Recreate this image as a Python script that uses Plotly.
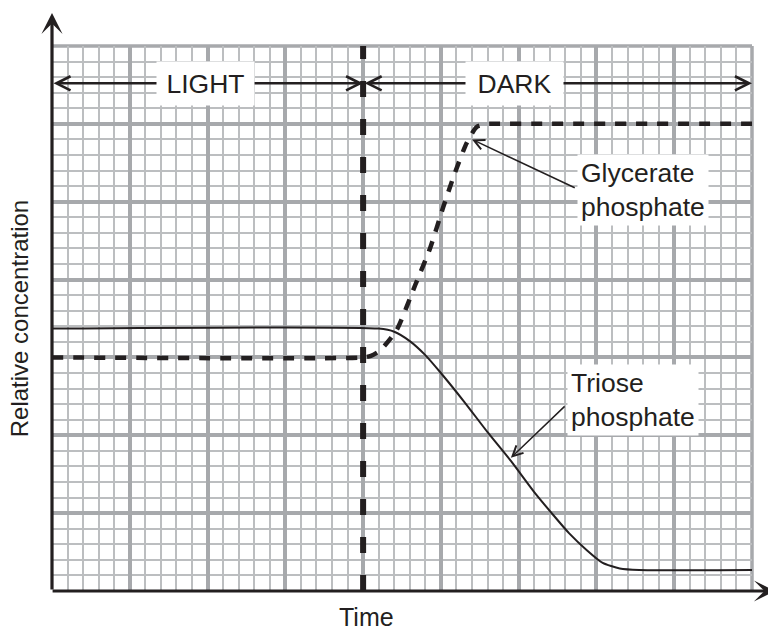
import plotly.graph_objects as go

# units = major grid squares (each major square = 5 small squares)
switch_time = 4

gp_time = [0, 4.0, 4.1, 4.22, 4.43, 4.67, 4.86, 5.03, 5.18, 5.33, 5.46, 5.6, 5.75, 9]
gp_conc = [3, 3, 3.02, 3.09, 3.35, 3.93, 4.40, 4.93, 5.37, 5.75, 5.96, 6, 6, 6]

tp_time = [0, 4.2, 4.4, 4.6, 4.8, 5.0, 5.3, 5.6, 5.9, 6.2, 6.45, 6.65, 6.88, 7.08, 7.3, 7.55, 9]
tp_conc = [3.37, 3.37, 3.33, 3.21, 3.03, 2.8, 2.43, 2.04, 1.67, 1.27, 0.97, 0.74, 0.52, 0.36, 0.29, 0.27, 0.27]

x_max = 9
y_max = 7
band_y = 6.52
band_labels = ["LIGHT", "DARK"]
band_label_x = [1.97, 5.95]

ink = "#231f20"
major_col = "#a7a9ac"
minor_col = "#bcbec0"
font = "Liberation Sans, Arial, sans-serif"

fig = go.Figure()

fig.add_trace(go.Scatter(x=tp_time, y=tp_conc, mode="lines",
                         line=dict(color=ink, width=2, shape="spline", smoothing=0.6),
                         name="Triose phosphate"))
fig.add_trace(go.Scatter(x=gp_time, y=gp_conc, mode="lines",
                         line=dict(color=ink, width=4.5, dash="11px,10px",
                                   shape="spline", smoothing=0.6),
                         name="Glycerate phosphate"))
fig.add_trace(go.Scatter(x=[switch_time, switch_time], y=[0, y_max], mode="lines",
                         line=dict(color=ink, width=6, dash="16px,22px"),
                         name="switch"))

axis_common = dict(showticklabels=False, ticks="", zeroline=False, showline=False,
                   showgrid=True, gridcolor=major_col, gridwidth=3.5, dtick=1, tick0=0,
                   fixedrange=True)
fig.update_xaxes(range=[0, x_max],
                 minor=dict(dtick=0.2, tick0=0, showgrid=True, gridcolor=minor_col, gridwidth=1.5),
                 **axis_common)
fig.update_yaxes(range=[0, y_max],
                 minor=dict(dtick=0.2, tick0=0, showgrid=True, gridcolor=minor_col, gridwidth=1.5),
                 **axis_common)

# outer edge of the graph paper
fig.add_shape(type="line", xref="paper", yref="paper", x0=0, x1=1, y0=1, y1=1,
              line=dict(color=major_col, width=3.5), layer="below")
fig.add_shape(type="line", xref="paper", yref="paper", x0=1, x1=1, y0=0, y1=1,
              line=dict(color=major_col, width=3.5), layer="below")

ann = []
# axes with arrows
ann.append(dict(xref="paper", yref="paper", x=0, y=1.0606, ax=0, ay=578, text="",
                showarrow=True, arrowhead=3, arrowsize=1.1, arrowwidth=3.2, arrowcolor=ink))
ann.append(dict(xref="paper", yref="paper", x=1.033, y=0, ax=-724, ay=0, text="",
                showarrow=True, arrowhead=3, arrowsize=1.1, arrowwidth=3.2, arrowcolor=ink))

# light / dark double arrows
for x0, x1 in [(0, switch_time), (switch_time, x_max)]:
    ann.append(dict(xref="x", yref="y", axref="x", ayref="y", x=x1, y=band_y, ax=x0, ay=band_y,
                    text="", showarrow=True, arrowside="end+start", arrowhead=5,
                    startarrowhead=5, arrowsize=1.1, startarrowsize=1.1, arrowwidth=2.5,
                    arrowcolor=ink))
for lab, lx in zip(band_labels, band_label_x):
    ann.append(dict(xref="x", yref="y", x=lx, y=band_y, text=lab, showarrow=False,
                    bgcolor="white", width=95, height=41,
                    font=dict(family=font, size=26.5, color=ink)))

# curve labels with pointers
ann.append(dict(xref="x", yref="y", axref="x", ayref="y", x=5.40, y=5.80, ax=6.74, ay=5.17,
                text="", showarrow=True, arrowhead=5, arrowsize=1.35, arrowwidth=1.5,
                arrowcolor=ink))
ann.append(dict(xref="x", yref="y", axref="x", ayref="y", x=5.90, y=1.71, ax=6.61, ay=2.39,
                text="", showarrow=True, arrowhead=5, arrowsize=1.35, arrowwidth=1.5,
                arrowcolor=ink))
ann.append(dict(xref="paper", yref="paper", x=0.75, y=0.735, xanchor="left", yanchor="middle",
                text="Glycerate<br>phosphate", showarrow=False, align="left",
                bgcolor="white", borderpad=3, font=dict(family=font, size=26.5, color=ink)))
ann.append(dict(xref="paper", yref="paper", x=0.736, y=0.35, xanchor="left", yanchor="middle",
                text="Triose<br>phosphate", showarrow=False, align="left",
                bgcolor="white", borderpad=3, font=dict(family=font, size=26.5, color=ink)))

# axis titles
ann.append(dict(xref="paper", yref="paper", x=-0.046, y=0.5, xanchor="center", yanchor="middle",
                text="Relative concentration", textangle=-90, showarrow=False,
                font=dict(family=font, size=24, color=ink)))
ann.append(dict(xref="paper", yref="paper", x=0.449, y=-0.0477, xanchor="center", yanchor="middle",
                text="Time", showarrow=False, font=dict(family=font, size=25, color=ink)))

# page body adds an 8px margin, so the figure is drawn 8px smaller with the plot area kept in place
fig.update_layout(width=768, height=622, margin=dict(l=44, r=24, t=38, b=39),
                  plot_bgcolor="white", paper_bgcolor="white", showlegend=False,
                  annotations=ann)

fig.write_html("out.html")
